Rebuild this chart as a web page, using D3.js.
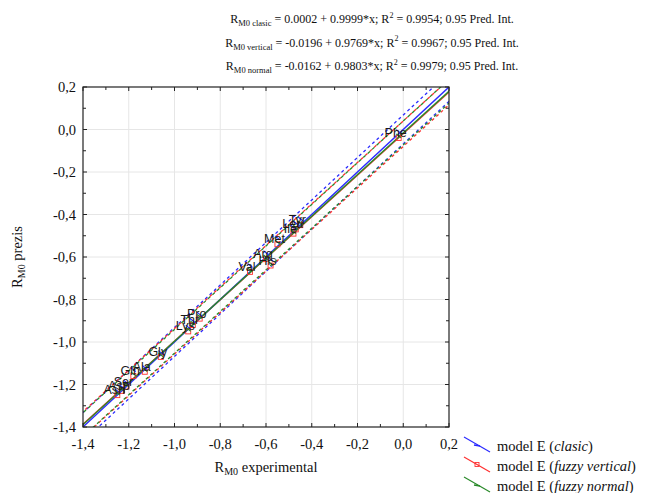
<!DOCTYPE html>
<html>
<head>
<meta charset="utf-8">
<script src="https://cdn.jsdelivr.net/npm/d3@7"></script>
<style>
  body { margin: 0; background: #fff; }
  svg { display: block; }
</style>
</head>
<body>
<svg id="chart" width="663" height="493"></svg>
<script>
// Amino acids: experimental RM0 and predicted RM0 from the three E models
const acids        = ["Phe", "Tyr", "Leu", "Ile", "Met", "Arg", "His", "Val", "Pro", "Thr", "Lys", "Gly", "Gln", "Ala", "Ser", "Asn", "Asp"];
const experimental = [-0.02, -0.45, -0.47, -0.48, -0.55, -0.60, -0.58, -0.67, -0.89, -0.92, -0.94, -1.06, -1.18, -1.13, -1.21, -1.25, -1.23];
const predClasic   = [-0.01, -0.42, -0.44, -0.46, -0.51, -0.58, -0.61, -0.64, -0.87, -0.90, -0.93, -1.05, -1.13, -1.12, -1.19, -1.23, -1.21];
const predVertical = [-0.04, -0.45, -0.47, -0.49, -0.54, -0.61, -0.64, -0.67, -0.89, -0.92, -0.95, -1.07, -1.16, -1.14, -1.21, -1.25, -1.23];
const predNormal   = [-0.03, -0.44, -0.46, -0.48, -0.53, -0.60, -0.63, -0.66, -0.88, -0.91, -0.94, -1.06, -1.15, -1.13, -1.20, -1.24, -1.22];

// Regression models: intercept, slope, R², half-width of 0.95 prediction band
const modelNames   = ["clasic", "fuzzy vertical", "fuzzy normal"];
const modelKeys    = ["clasic", "vertical", "normal"];
const intercepts   = [0.0002, -0.0196, -0.0162];
const slopes       = [0.9999, 0.9769, 0.9803];
const r2Values     = [0.9954, 0.9967, 0.9979];
const bandHalf     = [0.068, 0.060, 0.056];
const modelColors  = ["#2b2bff", "#ff3030", "#2a8a2a"];

const xTicks = [-1.4, -1.2, -1.0, -0.8, -0.6, -0.4, -0.2, 0.0, 0.2];
const yTicks = [-1.4, -1.2, -1.0, -0.8, -0.6, -0.4, -0.2, 0.0, 0.2];

const SERIF = "'Liberation Serif', 'Times New Roman', serif";
const SANS = "'Liberation Sans', Arial, sans-serif";

const svg = d3.select("#chart");
const L = 83, R = 449, T = 87, B = 427;
const x = d3.scaleLinear().domain([-1.4, 0.2]).range([L, R]);
const y = d3.scaleLinear().domain([-1.4, 0.2]).range([B, T]);
const fmt = v => d3.format(".1f")(v).replace("−", "-").replace(".", ",");

// Titles with regression equations
const titles = svg.append("g").attr("font-family", SERIF).attr("font-size", 12).attr("fill", "#111");
modelKeys.forEach((k, i) => {
  const t = titles.append("text").attr("x", 372).attr("y", 23 + i * 23.5).attr("text-anchor", "middle");
  t.append("tspan").text("R");
  t.append("tspan").attr("font-size", 8.5).attr("dy", 3).text("M0 " + k);
  const ic = d3.format(".4f")(intercepts[i]).replace("−", "-");
  const sl = d3.format(".4f")(slopes[i]);
  t.append("tspan").attr("dy", -3).text(" = " + ic + " + " + sl + "*x; R");
  t.append("tspan").attr("font-size", 8).attr("dy", -5.5).text("2");
  t.append("tspan").attr("dy", 5.5).text(" = " + d3.format(".4f")(r2Values[i]) + "; 0.95 Pred. Int.");
});

// Grid
const grid = svg.append("g").attr("stroke", "#e6e6e6").attr("stroke-width", 1);
xTicks.slice(1, -1).forEach(v => grid.append("line").attr("x1", x(v)).attr("x2", x(v)).attr("y1", T).attr("y2", B));
yTicks.slice(1, -1).forEach(v => grid.append("line").attr("y1", y(v)).attr("y2", y(v)).attr("x1", L).attr("x2", R));

// Clip region
svg.append("clipPath").attr("id", "plotClip").append("rect").attr("x", L).attr("y", T).attr("width", R - L).attr("height", B - T);
const plot = svg.append("g").attr("clip-path", "url(#plotClip)");

// Prediction bands (dashed) and fitted lines (solid)
const xs = [-1.5, 0.3];
const lineGen = d3.line().x(d => x(d[0])).y(d => y(d[1]));
modelKeys.forEach((k, i) => {
  [-1, 1].forEach(s => {
    plot.append("path")
      .attr("d", lineGen(xs.map(v => [v, intercepts[i] + slopes[i] * v + s * bandHalf[i]])))
      .attr("fill", "none").attr("stroke", modelColors[i]).attr("stroke-width", 1.3)
      .attr("stroke-dasharray", "3,3").attr("stroke-dashoffset", i * 2);
  });
});
[1, 0, 2].forEach(i => {
  plot.append("path")
    .attr("d", lineGen(xs.map(v => [v, intercepts[i] + slopes[i] * v])))
    .attr("fill", "none").attr("stroke", modelColors[i]).attr("stroke-width", 1.4);
});

// Data points for each model
acids.forEach((a, j) => {
  const px = x(experimental[j]);
  // fuzzy vertical: small open square
  plot.append("rect").attr("x", px - 2.5).attr("y", y(predVertical[j]) - 2.5).attr("width", 5).attr("height", 5)
    .attr("fill", "none").attr("stroke", modelColors[1]).attr("stroke-width", 0.9);
  // clasic: small blue tick
  plot.append("path").attr("d", `M${px - 2.5},${y(predClasic[j]) - 2}L${px + 2.5},${y(predClasic[j]) + 2}`)
    .attr("stroke", modelColors[0]).attr("stroke-width", 1.2);
  // fuzzy normal: small green tick
  plot.append("path").attr("d", `M${px - 2.5},${y(predNormal[j]) - 2}L${px + 2.5},${y(predNormal[j]) + 2}`)
    .attr("stroke", modelColors[2]).attr("stroke-width", 1.2);
});
// Point labels
acids.forEach((a, j) => {
  plot.append("text").attr("x", x(experimental[j]) - 3).attr("y", y(predVertical[j]) - 1)
    .attr("text-anchor", "middle").attr("font-family", SANS)
    .attr("font-size", 12.5).attr("fill", "#1a1a1a").text(a);
});

// Frame
svg.append("rect").attr("x", L).attr("y", T).attr("width", R - L).attr("height", B - T)
  .attr("fill", "none").attr("stroke", "#222").attr("stroke-width", 1.2);

// Inward ticks on all four sides (major 0.2, minor 0.1)
const ticksG = svg.append("g").attr("stroke", "#222").attr("stroke-width", 1);
d3.range(-1.4, 0.2001, 0.1).forEach((v, n) => {
  const len = n % 2 === 0 ? 4 : 3;
  const xv = x(v), yv = y(v);
  ticksG.append("line").attr("x1", xv).attr("x2", xv).attr("y1", B).attr("y2", B - len);
  ticksG.append("line").attr("x1", xv).attr("x2", xv).attr("y1", T).attr("y2", T + len);
  ticksG.append("line").attr("y1", yv).attr("y2", yv).attr("x1", L).attr("x2", L + len);
  ticksG.append("line").attr("y1", yv).attr("y2", yv).attr("x1", R).attr("x2", R - len);
});

// Tick labels
const tl = svg.append("g").attr("font-family", SERIF).attr("font-size", 14.5).attr("fill", "#111");
xTicks.forEach(v => tl.append("text").attr("x", x(v)).attr("y", 449).attr("text-anchor", "middle").text(fmt(v)));
yTicks.forEach(v => tl.append("text").attr("x", 76).attr("y", y(v) + 5).attr("text-anchor", "end").text(fmt(v)));

// Axis titles
const xt = svg.append("text").attr("font-family", SERIF).attr("x", 266).attr("y", 472).attr("text-anchor", "middle")
  .attr("font-size", 14.5).attr("fill", "#111");
xt.append("tspan").text("R");
xt.append("tspan").attr("font-size", 10).attr("dy", 3).text("M0");
xt.append("tspan").attr("dy", -3).text(" experimental");

const yt = svg.append("text").attr("font-family", SERIF).attr("transform", "translate(22,257) rotate(-90)")
  .attr("text-anchor", "middle").attr("font-size", 14.5).attr("fill", "#111");
yt.append("tspan").text("R");
yt.append("tspan").attr("font-size", 10).attr("dy", 3).text("M0");
yt.append("tspan").attr("dy", -3).text(" prezis");

// Legend
const lg = svg.append("g");
modelNames.forEach((n, i) => {
  const y0 = 437 + i * 20;
  lg.append("line").attr("x1", 464).attr("y1", y0).attr("x2", 490).attr("y2", y0 + 15)
    .attr("stroke", modelColors[i]).attr("stroke-width", 1.2);
  if (i === 1) {
    lg.append("rect").attr("x", 475).attr("y", y0 + 5.5).attr("width", 4).attr("height", 4)
      .attr("fill", "none").attr("stroke", modelColors[i]).attr("stroke-width", 0.9);
  } else {
    lg.append("path").attr("d", `M474,${y0 + 8}L480,${y0 + 9}`).attr("stroke", modelColors[i]).attr("stroke-width", 1.5);
  }
  const t = lg.append("text").attr("font-family", SERIF).attr("x", 497).attr("y", y0 + 14)
    .attr("font-size", 14.5).attr("fill", "#111");
  t.append("tspan").text("model E (");
  t.append("tspan").attr("font-style", "italic").text(n);
  t.append("tspan").text(")");
});
</script>
</body>
</html>
